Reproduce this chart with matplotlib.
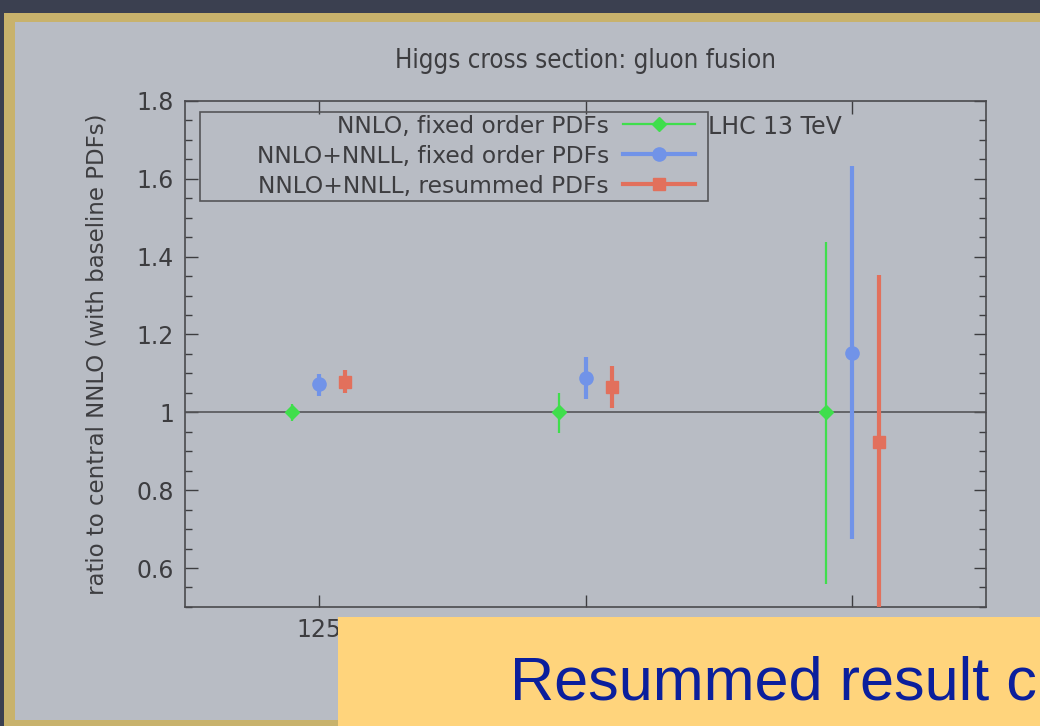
import numpy as np
import matplotlib.pyplot as plt
from matplotlib.lines import Line2D
from matplotlib.patches import Rectangle

# Higgs masses (GeV) and central ratios / error bands for the three setups
masses = ["125", "750", "3000"]
nnlo_fo = [1.000, 1.000, 1.000]
nnlo_fo_lo = [0.978, 0.946, 0.560]
nnlo_fo_hi = [1.022, 1.049, 1.437]

nnll_fo = [1.072, 1.087, 1.152]
nnll_fo_lo = [1.041, 1.033, 0.674]
nnll_fo_hi = [1.098, 1.141, 1.632]

nnll_res = [1.077, 1.064, 0.925]
nnll_res_lo = [1.049, 1.010, 0.440]
nnll_res_hi = [1.108, 1.118, 1.352]

labels = ["NNLO, fixed order PDFs",
          "NNLO+NNLL, fixed order PDFs",
          "NNLO+NNLL, resummed PDFs"]

green, blue, red = "#3fde4c", "#7193e8", "#e2705c"
ink = "#3d3d40"
panel = "#b8bcc4"

fig = plt.figure(figsize=(10.4, 7.26), dpi=100, facecolor="#3b4050")

# slide panel with gold edge (behind the axes)
fig.patches.append(Rectangle((0.004, 0.0), 1.0, 0.982, transform=fig.transFigure,
                             facecolor="#c8b26c", edgecolor="none", zorder=-2))
fig.patches.append(Rectangle((0.014, 0.008), 1.0, 0.962, transform=fig.transFigure,
                             facecolor=panel, edgecolor="none", zorder=-1))

ax = fig.add_axes([0.178, 0.164, 0.770, 0.697])
ax.set_facecolor("none")

x = np.arange(len(masses))
dx = 0.1

def band(vals, lo, hi):
    v = np.array(vals)
    return np.vstack([v - np.array(lo), np.array(hi) - v])

ax.errorbar(x - dx, nnlo_fo, yerr=band(nnlo_fo, nnlo_fo_lo, nnlo_fo_hi),
            fmt="D", color=green, ms=7, elinewidth=1.6, capsize=0, zorder=3)
ax.errorbar(x, nnll_fo, yerr=band(nnll_fo, nnll_fo_lo, nnll_fo_hi),
            fmt="o", color=blue, ms=9.5, elinewidth=3, capsize=0, zorder=3)
ax.errorbar(x + dx, nnll_res, yerr=band(nnll_res, nnll_res_lo, nnll_res_hi),
            fmt="s", color=red, ms=8.5, elinewidth=3, capsize=0, zorder=3)

ax.axhline(1.0, color="#555558", lw=1.2, zorder=2)

ax.set_xlim(-0.5, 2.5)
ax.set_ylim(0.5, 1.8)
ax.set_xticks(x)
ax.set_xticklabels(masses)
ax.set_yticks([0.6, 0.8, 1.0, 1.2, 1.4, 1.6, 1.8])
ax.set_yticklabels(["0.6", "0.8", "1", "1.2", "1.4", "1.6", "1.8"])
ax.set_yticks(np.arange(0.5, 1.801, 0.05), minor=True)
ax.tick_params(axis="both", which="major", direction="in", length=9, width=1,
               top=True, right=True, labelsize=17, colors=ink, pad=8)
ax.tick_params(axis="y", which="minor", direction="in", length=5, width=1,
               right=True, colors=ink)
for s in ax.spines.values():
    s.set_color("#4a4a4e")
    s.set_linewidth(1.2)

ax.set_ylabel("ratio to central NNLO (with baseline PDFs)", fontsize=16.5,
              color=ink, labelpad=20)
ax.set_title("Higgs cross section: gluon fusion", fontsize=18.5, color=ink,
             fontstretch="condensed", pad=24)

# key: right-aligned entries with the sample line after the text,
# inside a fixed-width box
handles = [
    Line2D([], [], color=green, lw=1.6, marker="D", ms=7),
    Line2D([], [], color=blue, lw=3, marker="o", ms=9.5),
    Line2D([], [], color=red, lw=3, marker="s", ms=8.5),
]
leg = ax.legend(handles, labels, loc="upper right", bbox_to_anchor=(0.637, 0.973),
                markerfirst=False, alignment="right", fontsize=16.8,
                handlelength=3.1, handletextpad=0.6, labelspacing=0.3,
                borderpad=0, borderaxespad=0, frameon=False, labelcolor=ink)
for t in leg.get_texts():
    t.set_ha("right")
ax.add_patch(Rectangle((0.0187, 0.802), 0.634, 0.176, transform=ax.transAxes,
                       facecolor="none", edgecolor="#555558", lw=1.2, zorder=4))

ax.text(0.653, 0.949, "LHC 13 TeV", transform=ax.transAxes, fontsize=17,
        color=ink, ha="left", va="center")

# yellow caption box along the bottom of the slide
fig.patches.append(Rectangle((0.325, 0.0), 0.7, 0.150, transform=fig.transFigure,
                             facecolor="#ffd47c", edgecolor="none", zorder=5))
fig.text(0.490, 0.036, "Resummed result c", fontsize=44, color="#0b1f9c",
         family="Liberation Sans", ha="left", va="baseline", zorder=6)

fig.savefig("out.png", dpi=100, facecolor=fig.get_facecolor())
